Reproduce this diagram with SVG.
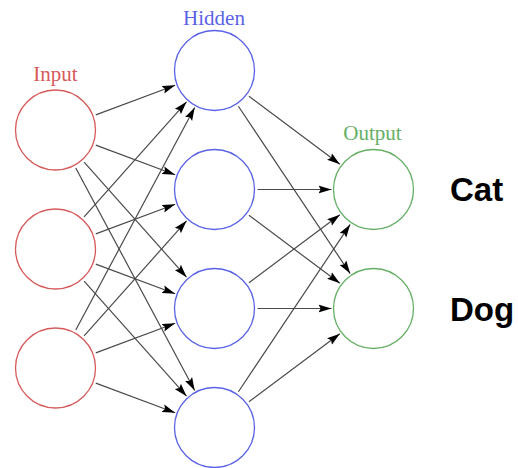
<svg xmlns="http://www.w3.org/2000/svg" width="518" height="468" viewBox="0 0 518 468">
  <style>
    .bg { fill: #ffffff; }
    .in  circle { fill: none; stroke: #d65a5a; stroke-width: 1.3; }
    .hid circle { fill: none; stroke: #5a63e6; stroke-width: 1.3; }
    .out circle { fill: none; stroke: #66b066; stroke-width: 1.3; }
    .title { font-family: "Liberation Serif", "DejaVu Serif", serif; font-size: 21px; text-anchor: middle; }
    .in-t { fill: #d65a5a; }
    .hid-t { fill: #5a63e6; }
    .out-t { fill: #66b066; }
    .cls { font-family: "Liberation Sans", Arial, sans-serif; font-weight: bold; font-size: 33px; fill: #000000; }
    #edges line { stroke: #4a4a4a; stroke-width: 1.2; marker-end: url(#arrow); }
  </style>
  <defs>
    <marker id="arrow" markerUnits="userSpaceOnUse" viewBox="0 0 13 9" markerWidth="13" markerHeight="9" refX="13" refY="4.5" orient="auto">
      <path d="M0,0.5 L13,4.5 L0,8.5 L2.2,4.5 Z" fill="#000000"/>
    </marker>
  </defs>
  <rect class="bg" x="0" y="0" width="518" height="468"/>

  <!-- input -> hidden, hidden -> output -->
  <g id="edges">
    <line x1="95.77" y1="114.93" x2="175.16" y2="85.22"/>
    <line x1="95.77" y1="145.07" x2="175.16" y2="174.78"/>
    <line x1="84.10" y1="162.11" x2="186.57" y2="277.14"/>
    <line x1="75.77" y1="167.93" x2="194.70" y2="390.46"/>

    <line x1="84.10" y1="216.89" x2="186.57" y2="101.86"/>
    <line x1="95.77" y1="233.93" x2="175.16" y2="204.22"/>
    <line x1="95.77" y1="264.07" x2="175.16" y2="293.78"/>
    <line x1="84.10" y1="281.11" x2="186.57" y2="396.14"/>

    <line x1="75.77" y1="330.07" x2="194.70" y2="107.54"/>
    <line x1="84.10" y1="335.89" x2="186.57" y2="220.86"/>
    <line x1="95.77" y1="352.93" x2="175.16" y2="323.22"/>
    <line x1="95.77" y1="383.07" x2="175.16" y2="412.78"/>

    <line x1="248.93" y1="96.27" x2="339.87" y2="164.33"/>
    <line x1="238.39" y1="106.25" x2="350.17" y2="273.58"/>
    <line x1="257.50" y1="189.50" x2="331.50" y2="189.50"/>
    <line x1="248.93" y1="215.27" x2="339.87" y2="283.33"/>
    <line x1="248.93" y1="282.73" x2="339.87" y2="214.67"/>
    <line x1="257.50" y1="308.50" x2="331.50" y2="308.50"/>
    <line x1="238.39" y1="391.75" x2="350.17" y2="224.42"/>
    <line x1="248.93" y1="401.73" x2="339.87" y2="333.67"/>
  </g>

  <!-- input layer -->
  <text class="title in-t" x="55.5" y="81">Input</text>
  <g id="input-1" class="in"><circle cx="55.5" cy="130" r="40"/></g>
  <g id="input-2" class="in"><circle cx="55.5" cy="249" r="40"/></g>
  <g id="input-3" class="in"><circle cx="55.5" cy="368" r="40"/></g>

  <!-- hidden layer -->
  <text class="title hid-t" x="214" y="25">Hidden</text>
  <g id="hidden-1" class="hid"><circle cx="214.5" cy="70.5" r="40"/></g>
  <g id="hidden-2" class="hid"><circle cx="214.5" cy="189.5" r="40"/></g>
  <g id="hidden-3" class="hid"><circle cx="214.5" cy="308.5" r="40"/></g>
  <g id="hidden-4" class="hid"><circle cx="214.5" cy="427.5" r="40"/></g>

  <!-- output layer -->
  <text class="title out-t" x="372.5" y="140">Output</text>
  <g id="output-1" class="out"><circle cx="373.5" cy="189.5" r="40"/></g>
  <g id="output-2" class="out"><circle cx="373.5" cy="308.5" r="40"/></g>

  <!-- class labels -->
  <text class="cls" x="450" y="201">Cat</text>
  <text class="cls" x="450" y="321">Dog</text>
</svg>
